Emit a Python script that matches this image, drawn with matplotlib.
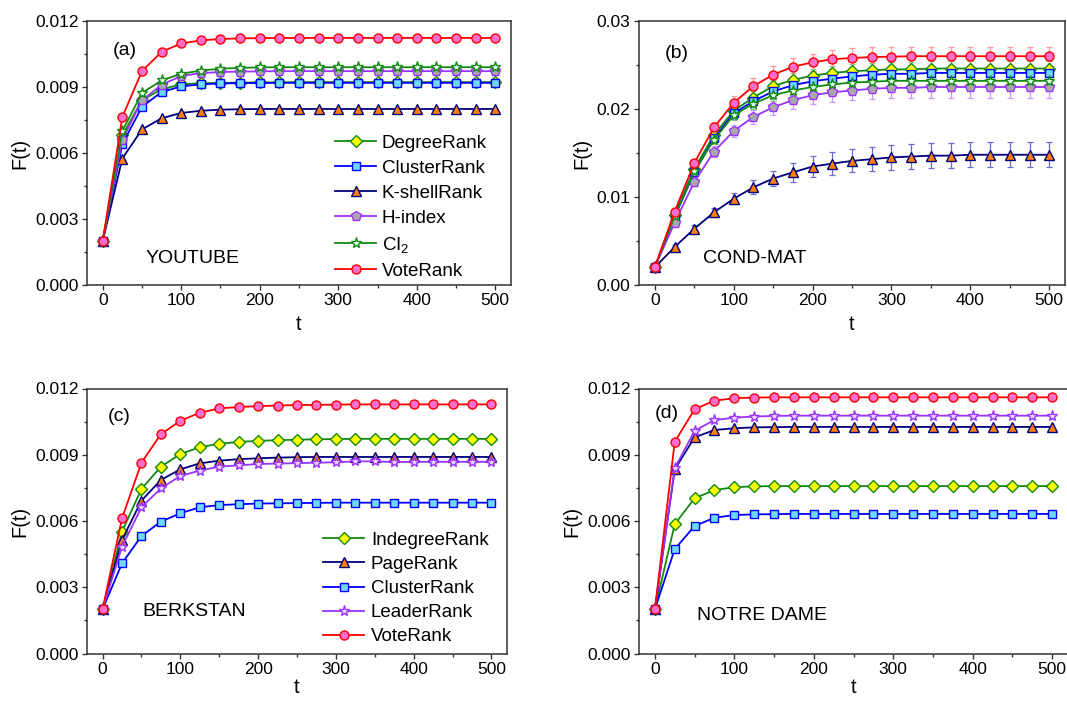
import matplotlib
matplotlib.use("Agg")
import matplotlib.pyplot as plt
from matplotlib.ticker import MultipleLocator, FormatStrFormatter

plt.rcParams['font.family'] = ['Liberation Sans', 'DejaVu Sans']
plt.rcParams['mathtext.fontset'] = 'custom'
plt.rcParams['mathtext.rm'] = 'Liberation Sans'
plt.rcParams['mathtext.it'] = 'Liberation Sans'

# ---------------- data ----------------
t = [0, 25, 50, 75, 100, 125, 150, 175, 200, 225, 250, 275, 300, 325, 350, 375, 400, 425, 450, 475, 500]

# (a) YOUTUBE
degree_a = [0.0020, 0.0068, 0.0084, 0.0089, 0.00912, 0.00917, 0.00919, 0.00920, 0.00921, 0.00921, 0.00922, 0.00922, 0.00922, 0.00922, 0.00922, 0.00922, 0.00922, 0.00922, 0.00922, 0.00922, 0.00922]
cluster_a = [0.0020, 0.0064, 0.0081, 0.00877, 0.00903, 0.00912, 0.00916, 0.00918, 0.00918, 0.00919, 0.00919, 0.00919, 0.00919, 0.00919, 0.00919, 0.00919, 0.00919, 0.00919, 0.00919, 0.00919, 0.00919]
kshell_a = [0.0020, 0.00575, 0.00707, 0.00758, 0.00782, 0.00792, 0.00797, 0.00799, 0.0080, 0.0080, 0.0080, 0.0080, 0.0080, 0.0080, 0.0080, 0.0080, 0.0080, 0.0080, 0.0080, 0.0080, 0.0080]
hindex_a = [0.0020, 0.0066, 0.0084, 0.0091, 0.00950, 0.00963, 0.00968, 0.00970, 0.00971, 0.00972, 0.00972, 0.00972, 0.00972, 0.00972, 0.00972, 0.00972, 0.00972, 0.00972, 0.00972, 0.00972, 0.00972]
ci2_a = [0.0020, 0.0070, 0.00873, 0.00930, 0.00960, 0.00975, 0.00983, 0.00987, 0.00989, 0.00990, 0.00990, 0.00990, 0.00990, 0.00990, 0.00990, 0.00990, 0.00990, 0.00990, 0.00990, 0.00990, 0.00990]
vote_a = [0.0020, 0.00764, 0.00972, 0.01060, 0.01098, 0.01112, 0.01118, 0.01121, 0.01122, 0.01123, 0.01123, 0.01123, 0.01123, 0.01123, 0.01123, 0.01123, 0.01123, 0.01123, 0.01123, 0.01123, 0.01123]

# (b) COND-MAT (with error bars)
degree_b = [0.0020, 0.0080, 0.0132, 0.01705, 0.0198, 0.0213, 0.0226, 0.0233, 0.0238, 0.0241, 0.0243, 0.0244, 0.0245, 0.0245, 0.0246, 0.0246, 0.0246, 0.0246, 0.0246, 0.0246, 0.0246]
cluster_b = [0.0020, 0.0077, 0.0128, 0.01667, 0.0195, 0.0209, 0.0220, 0.0227, 0.02315, 0.02345, 0.0237, 0.0239, 0.0240, 0.0240, 0.0241, 0.0241, 0.0241, 0.0241, 0.0241, 0.0241, 0.0241]
kshell_b = [0.0020, 0.0043, 0.00638, 0.00826, 0.0098, 0.0111, 0.0121, 0.0128, 0.01346, 0.0138, 0.0141, 0.0143, 0.0145, 0.0146, 0.0147, 0.0147, 0.0148, 0.0148, 0.0148, 0.0148, 0.0148]
hindex_b = [0.0020, 0.00705, 0.0117, 0.01516, 0.0175, 0.0191, 0.0202, 0.0210, 0.02157, 0.0219, 0.0221, 0.0223, 0.0224, 0.0224, 0.0225, 0.0225, 0.0225, 0.0225, 0.0225, 0.0225, 0.0225]
ci2_b = [0.0020, 0.0078, 0.0129, 0.0165, 0.0193, 0.0206, 0.02157, 0.0221, 0.0225, 0.0228, 0.0230, 0.0231, 0.0232, 0.0232, 0.0232, 0.0232, 0.0232, 0.0232, 0.0232, 0.0232, 0.0232]
vote_b = [0.0020, 0.0083, 0.01385, 0.0179, 0.0207, 0.0226, 0.0239, 0.0248, 0.0253, 0.02565, 0.0258, 0.0259, 0.02595, 0.0260, 0.0260, 0.0260, 0.0260, 0.0260, 0.0260, 0.0260, 0.0260]

degree_b_err = [0, 0.0003, 0.0004, 0.0005, 0.0006, 0.0007, 0.0007, 0.0008, 0.0008, 0.0008, 0.0008, 0.0008, 0.0008, 0.0008, 0.0008, 0.0008, 0.0008, 0.0008, 0.0008, 0.0008, 0.0008]
cluster_b_err = [0, 0.0003, 0.0004, 0.0005, 0.0006, 0.0006, 0.0007, 0.0007, 0.0007, 0.0007, 0.0007, 0.0007, 0.0007, 0.0007, 0.0007, 0.0007, 0.0007, 0.0007, 0.0007, 0.0007, 0.0007]
kshell_b_err = [0, 0.0003, 0.0004, 0.0005, 0.0006, 0.0008, 0.0009, 0.0011, 0.0012, 0.0013, 0.0013, 0.0014, 0.0014, 0.0014, 0.0014, 0.0014, 0.0014, 0.0014, 0.0014, 0.0014, 0.0014]
hindex_b_err = [0, 0.0003, 0.0005, 0.0006, 0.0007, 0.0008, 0.0009, 0.0010, 0.0010, 0.0011, 0.0011, 0.0012, 0.0012, 0.0012, 0.0012, 0.0012, 0.0012, 0.0012, 0.0012, 0.0012, 0.0012]
ci2_b_err = [0, 0.0003, 0.0004, 0.0005, 0.0006, 0.0006, 0.0007, 0.0007, 0.0007, 0.0007, 0.0007, 0.0007, 0.0007, 0.0007, 0.0007, 0.0007, 0.0007, 0.0007, 0.0007, 0.0007, 0.0007]
vote_b_err = [0, 0.0003, 0.0004, 0.0006, 0.0008, 0.0009, 0.0010, 0.0010, 0.0010, 0.0011, 0.0011, 0.0011, 0.0011, 0.0011, 0.0011, 0.0011, 0.0011, 0.0011, 0.0011, 0.0011, 0.0011]

# (c) BERKSTAN
indeg_c = [0.0020, 0.00552, 0.00745, 0.00846, 0.00903, 0.00934, 0.00950, 0.00958, 0.00963, 0.00966, 0.00968, 0.00970, 0.00971, 0.00972, 0.00972, 0.00972, 0.00972, 0.00972, 0.00972, 0.00972, 0.00972]
page_c = [0.0020, 0.00514, 0.00692, 0.00786, 0.00834, 0.00861, 0.00873, 0.00880, 0.00884, 0.00887, 0.00889, 0.00890, 0.00890, 0.00890, 0.00890, 0.00890, 0.00890, 0.00890, 0.00890, 0.00890, 0.00890]
cluster_c = [0.0020, 0.00408, 0.00532, 0.00597, 0.00635, 0.00662, 0.00672, 0.00676, 0.00679, 0.00680, 0.00681, 0.00682, 0.00683, 0.00683, 0.00683, 0.00683, 0.00683, 0.00683, 0.00683, 0.00683, 0.00683]
leader_c = [0.0020, 0.00484, 0.00662, 0.00748, 0.00804, 0.00828, 0.00846, 0.00852, 0.00858, 0.00860, 0.00862, 0.00864, 0.00866, 0.00870, 0.00870, 0.00867, 0.00868, 0.00868, 0.00868, 0.00868, 0.00868]
vote_c = [0.0020, 0.00612, 0.00864, 0.00993, 0.01054, 0.01090, 0.01110, 0.01116, 0.01120, 0.01123, 0.01125, 0.01126, 0.01127, 0.01128, 0.01128, 0.01128, 0.01128, 0.01128, 0.01128, 0.01128, 0.01128]

# (d) NOTRE DAME
indeg_d = [0.0020, 0.00586, 0.00703, 0.00740, 0.00753, 0.00757, 0.00758, 0.00758, 0.00758, 0.00758, 0.00758, 0.00758, 0.00758, 0.00758, 0.00758, 0.00758, 0.00758, 0.00758, 0.00758, 0.00758, 0.00758]
page_d = [0.0020, 0.00834, 0.00979, 0.01012, 0.01020, 0.01024, 0.01025, 0.01026, 0.01026, 0.01026, 0.01026, 0.01026, 0.01026, 0.01026, 0.01026, 0.01026, 0.01026, 0.01026, 0.01026, 0.01026, 0.01026]
cluster_d = [0.0020, 0.00473, 0.00577, 0.00615, 0.00627, 0.00630, 0.00631, 0.00632, 0.00632, 0.00632, 0.00632, 0.00632, 0.00632, 0.00632, 0.00632, 0.00632, 0.00632, 0.00632, 0.00632, 0.00632, 0.00632]
leader_d = [0.0020, 0.00839, 0.01009, 0.01057, 0.01068, 0.01073, 0.01076, 0.01077, 0.01077, 0.01077, 0.01077, 0.01077, 0.01077, 0.01077, 0.01077, 0.01077, 0.01077, 0.01077, 0.01077, 0.01077, 0.01077]
vote_d = [0.0020, 0.00959, 0.01106, 0.01145, 0.01156, 0.01159, 0.01160, 0.01160, 0.01160, 0.01160, 0.01160, 0.01160, 0.01160, 0.01160, 0.01160, 0.01160, 0.01160, 0.01160, 0.01160, 0.01160, 0.01160]

# ---------------- styles ----------------
STY = {
    'DegreeRank':   dict(color='#128a12', marker='D', mfc='#ffff00', mec='#128a12', ms=6.0, ecol='#7fc47f'),
    'IndegreeRank': dict(color='#128a12', marker='D', mfc='#ffff00', mec='#128a12', ms=6.0, ecol='#7fc47f'),
    'ClusterRank':  dict(color='#0000ff', marker='s', mfc='#6fd8ff', mec='#0000ff', ms=6.0, ecol='#8080ff'),
    'K-shellRank':  dict(color='#00007f', marker='^', mfc='#ff8000', mec='#00007f', ms=7.0, ecol='#6b6bd0'),
    'PageRank':     dict(color='#00007f', marker='^', mfc='#ff8000', mec='#00007f', ms=7.0, ecol='#6b6bd0'),
    'H-index':      dict(color='#9933ff', marker='p', mfc='#a8a8a8', mec='#9933ff', ms=7.0, ecol='#c899ff'),
    'CI2':          dict(color='#128a12', marker='*', mfc='#e8ffe8', mec='#128a12', ms=8.0, ecol='#7fc47f'),
    'LeaderRank':   dict(color='#9933ff', marker='*', mfc='#ead6ff', mec='#9933ff', ms=8.0, ecol='#c899ff'),
    'VoteRank':     dict(color='#ff0000', marker='o', mfc='#ff6ecf', mec='#ff0000', ms=6.5, ecol='#ff9a9a'),
}
LABEL = {'CI2': r'CI$_\mathregular{2}$'}


def draw(ax, key, y, err=None):
    s = STY[key]
    if err is not None:
        ax.errorbar(t, y, yerr=err, fmt='none', ecolor=s['ecol'], elinewidth=0.9,
                    capsize=2.5, capthick=0.9, zorder=1)
    ax.plot(t, y, color=s['color'], lw=1.3, marker=s['marker'], mfc=s['mfc'],
            mec=s['mec'], ms=s['ms'], mew=1.0, label=LABEL.get(key, key), zorder=2)


def style_axis(ax, ymax, ymaj, fmt, xlabelpad):
    ax.set_xlim(-20, 520)
    ax.set_ylim(0, ymax)
    ax.xaxis.set_major_locator(MultipleLocator(100))
    ax.xaxis.set_minor_locator(MultipleLocator(50))
    ax.yaxis.set_major_locator(MultipleLocator(ymaj))
    ax.yaxis.set_minor_locator(MultipleLocator(ymaj / 2))
    ax.yaxis.set_major_formatter(FormatStrFormatter(fmt))
    ax.tick_params(which='major', direction='out', length=3.6, width=1, labelsize=12.5, pad=2.5, color='#333333')
    ax.tick_params(which='minor', direction='out', length=2.0, width=1, color='#333333')
    for sp in ax.spines.values():
        sp.set_linewidth(1.1)
        sp.set_color('#333333')
    ax.set_xlabel('t', fontsize=14.5, labelpad=xlabelpad)
    ax.set_ylabel('F(t)', fontsize=14.5, labelpad=4)


W, H = 1067, 704
fig = plt.figure(figsize=(W / 100, H / 100), dpi=100)


def fpos(l, r, top, bot):
    return [l / W, 1 - bot / H, (r - l) / W, (bot - top) / H]


ax_a = fig.add_axes(fpos(87, 511, 21, 285))
ax_b = fig.add_axes(fpos(639, 1065, 21, 285))
ax_c = fig.add_axes(fpos(87, 507, 388.5, 653.5))
ax_d = fig.add_axes(fpos(639, 1068, 388.5, 653.5))

# (a)
for key, y in [('DegreeRank', degree_a), ('ClusterRank', cluster_a), ('K-shellRank', kshell_a),
               ('H-index', hindex_a), ('CI2', ci2_a), ('VoteRank', vote_a)]:
    draw(ax_a, key, y)
style_axis(ax_a, 0.012, 0.003, '%.3f', 5)
ax_a.legend(loc='upper left', bbox_to_anchor=(0.585, 0.57), frameon=False, fontsize=13.5,
            borderpad=0, borderaxespad=0, handlelength=2.2, handletextpad=0.3, labelspacing=0.42)
ax_a.text(0.09, 0.89, '(a)', transform=ax_a.transAxes, fontsize=14, ha='center', va='center')
ax_a.text(0.137, 0.10, 'YOUTUBE', transform=ax_a.transAxes, fontsize=14, ha='left', va='center')

# (b)
for key, y, e in [('DegreeRank', degree_b, degree_b_err), ('ClusterRank', cluster_b, cluster_b_err),
                  ('K-shellRank', kshell_b, kshell_b_err), ('H-index', hindex_b, hindex_b_err),
                  ('CI2', ci2_b, ci2_b_err), ('VoteRank', vote_b, vote_b_err)]:
    draw(ax_b, key, y, e)
style_axis(ax_b, 0.03, 0.01, '%.2f', 5)
ax_b.text(0.089, 0.876, '(b)', transform=ax_b.transAxes, fontsize=14, ha='center', va='center')
ax_b.text(0.15, 0.10, 'COND-MAT', transform=ax_b.transAxes, fontsize=14, ha='left', va='center')

# (c)
for key, y in [('IndegreeRank', indeg_c), ('PageRank', page_c), ('ClusterRank', cluster_c),
               ('LeaderRank', leader_c), ('VoteRank', vote_c)]:
    draw(ax_c, key, y)
style_axis(ax_c, 0.012, 0.003, '%.3f', 1)
ax_c.legend(loc='upper left', bbox_to_anchor=(0.562, 0.459), frameon=False, fontsize=13.5,
            borderpad=0, borderaxespad=0, handlelength=2.2, handletextpad=0.35, labelspacing=0.37)
ax_c.text(0.076, 0.896, '(c)', transform=ax_c.transAxes, fontsize=14, ha='center', va='center')
ax_c.text(0.133, 0.157, 'BERKSTAN', transform=ax_c.transAxes, fontsize=14, ha='left', va='center')

# (d)
for key, y in [('IndegreeRank', indeg_d), ('PageRank', page_d), ('ClusterRank', cluster_d),
               ('LeaderRank', leader_d), ('VoteRank', vote_d)]:
    draw(ax_d, key, y)
style_axis(ax_d, 0.012, 0.003, '%.3f', 1)
ax_d.text(0.065, 0.906, '(d)', transform=ax_d.transAxes, fontsize=14, ha='center', va='center')
ax_d.text(0.135, 0.145, 'NOTRE DAME', transform=ax_d.transAxes, fontsize=14, ha='left', va='center')

fig.savefig('out.png', dpi=100)
